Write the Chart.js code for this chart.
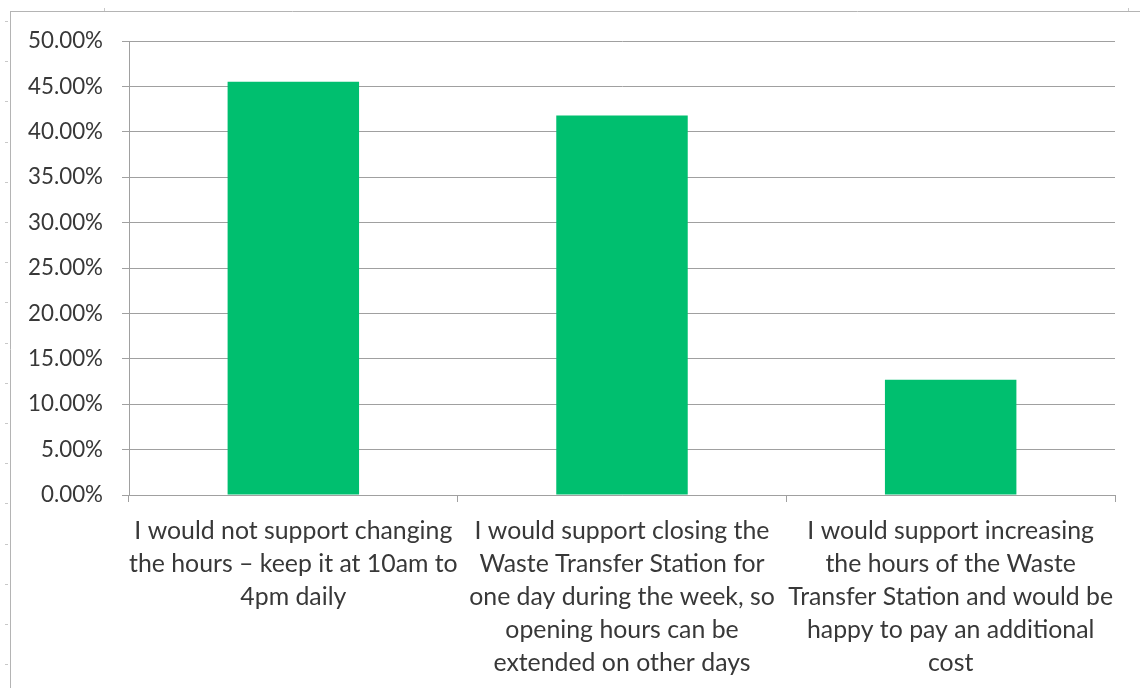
<!DOCTYPE html>
<html>
<head>
<meta charset="utf-8">
<script src="https://cdn.jsdelivr.net/npm/chart.js@4.4.1/dist/chart.umd.min.js"></script>
<style>
html,body{margin:0;padding:0;background:#fff;}
#wrap{position:relative;width:1140px;height:688px;}
</style>
</head>
<body>
<div id="wrap"><canvas id="c" width="1140" height="688"></canvas></div>
<script>
const categories = [
  ["I would not support changing", "the hours \u2013 keep it at 10am to", "4pm daily"],
  ["I would support closing the", "Waste Transfer Station for", "one day during the week, so", "opening hours can be", "extended on other days"],
  ["I would support increasing", "the hours of the Waste", "Transfer Station and would be", "happy to pay an additional", "cost"]
];
const values = [45.52, 41.80, 12.68];
const yTicks = [0, 5, 10, 15, 20, 25, 30, 35, 40, 45, 50];

const FONT = "Lato, 'Open Sans', sans-serif";
const mctx = document.createElement('canvas').getContext('2d');
function fitSize(text, target) {
  mctx.font = "100px " + FONT;
  return 100 * target / mctx.measureText(text).width;
}
const yFont = fitSize("50.00%", 75);
const xFont = fitSize("I would not support changing", 318);

const frame = {
  id: 'frame',
  beforeDraw(chart) {
    const ctx = chart.ctx;
    ctx.save();
    ctx.strokeStyle = '#b4b4b4';
    ctx.lineWidth = 1;
    ctx.beginPath();
    ctx.moveTo(10, 11.5); ctx.lineTo(1140, 11.5);
    ctx.moveTo(10.5, 11); ctx.lineTo(10.5, 688);
    ctx.stroke();
    ctx.strokeStyle = '#c8c8c8';
    ctx.beginPath();
    for (let y = 21; y < 688; y += 40.2) {
      ctx.moveTo(5, Math.round(y) + 0.5); ctx.lineTo(8, Math.round(y) + 0.5);
    }
    ctx.moveTo(104.5, 8); ctx.lineTo(104.5, 11);
    ctx.moveTo(1128.5, 8); ctx.lineTo(1128.5, 11);
    ctx.stroke();
    ctx.restore();
  }
};

new Chart(document.getElementById('c'), {
  type: 'bar',
  data: {
    labels: categories,
    datasets: [{
      data: values,
      backgroundColor: '#00BF6F',
      borderWidth: 0,
      barPercentage: 0.4,
      categoryPercentage: 1.0
    }]
  },
  options: {
    responsive: false,
    animation: false,
    devicePixelRatio: 1,
    layout: { padding: { top: 41, right: 25, bottom: 0, left: 0 } },
    plugins: { legend: { display: false }, tooltip: { enabled: false } },
    scales: {
      x: {
        offset: true,
        grid: { offset: true, drawOnChartArea: false, drawTicks: true, tickLength: 7, color: '#a0a0a0' },
        border: { color: '#a0a0a0', width: 1 },
        ticks: {
          color: '#383838',
          font: { family: FONT, size: xFont, lineHeight: 33 / xFont },
          padding: 12,
          maxRotation: 0,
          autoSkip: false
        },
        afterFit(scale) { scale.height = 688 - 495; }
      },
      y: {
        min: 0, max: 50,
        afterBuildTicks(scale) { scale.ticks = yTicks.map(v => ({ value: v })); },
        grid: { color: '#a0a0a0', tickLength: 7, drawTicks: true },
        border: { color: '#a0a0a0', width: 1 },
        ticks: {
          color: '#383838',
          font: { family: FONT, size: yFont },
          padding: 19,
          callback: v => v.toFixed(2) + '%'
        },
        afterFit(scale) { scale.width = 129; }
      }
    }
  },
  plugins: [frame]
});
</script>
</body>
</html>
